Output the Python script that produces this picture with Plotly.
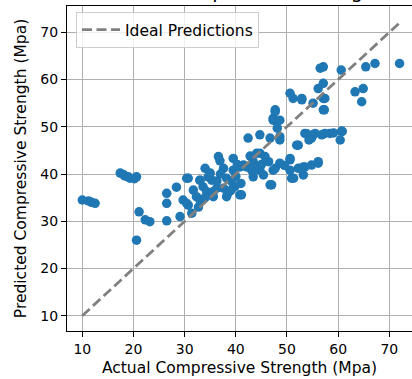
import plotly.graph_objects as go

# Actual vs predicted compressive strength (MPa)
actual = [
    10.0, 11.2, 11.8, 12.5,
    17.4, 18.0, 18.3, 19.0, 19.3, 20.6, 20.2,
    21.1, 22.3, 23.2, 20.6,
    26.5, 26.5, 28.4, 30.7, 26.5, 29.1, 30.7, 31.4, 29.7, 30.4,
    31.7, 32.3, 33.0, 33.0, 33.6, 34.3, 34.6, 35.3, 35.6, 36.3, 35.6, 34.0, 32.7,
    34.0, 36.6, 39.5, 37.6, 38.2, 39.5, 40.8, 41.5, 43.1, 44.7, 43.4, 38.2, 40.8,
    41.1, 39.2, 39.8, 37.6, 36.3, 38.5, 40.0, 41.0, 42.1, 43.4, 43.4, 44.1, 44.7,
    45.7, 46.4, 44.7, 45.4, 47.3, 48.6, 50.6, 50.6, 50.6, 51.3, 53.2, 53.2, 54.8,
    56.1, 56.1, 47.0, 46.7, 47.7, 50.9, 52.2, 53.5, 30.4, 33.0,
    42.4, 44.7, 46.7, 48.6, 48.6, 52.2, 51.9, 53.5, 55.1, 56.8, 58.4, 60.7, 60.4,
    54.3, 54.8, 53.9, 59.1, 57.4, 55.5, 60.8,
    47.7, 47.3, 48.0, 48.1, 47.7, 47.3, 48.6,
    50.6, 51.2, 52.9, 52.9, 57.1, 57.1, 55.1, 57.3,
    57.1, 56.5, 57.1, 56.1, 57.4, 60.6, 65.4, 67.2, 72.0, 63.3, 64.9, 64.6,
    36.9, 40.3, 42.8, 45.0, 49.5, 37.0, 35.0, 39.0,
]
predicted = [
    34.5, 34.3, 34.0, 33.8,
    40.2, 39.9, 39.6, 39.4, 39.1, 39.4, 39.0,
    32.0, 30.3, 29.9, 26.0,
    35.9, 33.8, 37.2, 39.1, 30.1, 31.0, 33.4, 31.7, 34.5, 33.8,
    36.6, 35.2, 34.5, 38.7, 37.3, 36.3, 39.4, 38.7, 36.3, 37.0, 35.2, 35.0, 33.0,
    41.2, 43.7, 43.3, 41.2, 39.1, 40.8, 41.5, 41.9, 40.8, 40.8, 42.6, 35.2, 35.6,
    35.6, 38.4, 37.3, 37.0, 38.5, 36.0, 39.5, 38.0, 41.5, 40.8, 39.4, 44.4, 44.4,
    43.7, 42.6, 41.5, 39.8, 40.8, 42.3, 43.0, 43.3, 40.8, 39.1, 39.8, 41.5, 41.9,
    42.3, 42.6, 37.7, 37.7, 41.2, 39.1, 41.2, 41.5, 39.1, 38.7,
    47.6, 48.3, 47.6, 47.9, 47.2, 46.1, 46.1, 48.6, 48.3, 48.3, 48.6, 49.1, 47.2,
    47.2, 47.6, 48.5, 48.7, 48.6, 48.6, 49.0,
    53.6, 51.8, 51.1, 49.7, 53.2, 51.4, 51.4,
    57.1, 56.0, 55.7, 56.0, 56.0, 53.6, 55.0, 53.6,
    62.7, 62.4, 59.2, 58.1, 56.0, 62.0, 62.7, 63.4, 63.4, 57.4, 58.1, 55.3,
    42.8, 42.0, 43.8, 42.0, 41.8, 40.0, 40.2, 36.5,
]

ideal_x = [min(actual), max(actual)]
ideal_y = [min(actual), max(actual)]

title_text = "Actual Compressive Strength"
x_title = "Actual Compressive Strength (Mpa)"
y_title = "Predicted Compressive Strength (Mpa)"
ticks = [10, 20, 30, 40, 50, 60, 70]

W, H = 412, 379
L, R, T, B = 67, 0, 6, 48
pw, ph = W - L - R, H - T - B
xpx = 5.117  # px per unit
ypx = 4.723
x0 = 10 - (82.3 - L) / xpx
x1 = x0 + pw / xpx
y0 = 10 - ((H - B) - 315.7) / ypx
y1 = y0 + ph / ypx

font = "DejaVu Sans"

fig = go.Figure()
fig.add_trace(go.Scatter(
    x=actual, y=predicted, mode="markers", showlegend=False,
    marker=dict(color="#1f77b4", size=9.5, line=dict(width=0)),
))
fig.add_trace(go.Scatter(
    x=ideal_x, y=ideal_y, mode="lines", name="Ideal Predictions",
    line=dict(color="#808080", width=2.8, dash="10px,4.5px"),
))

axis_common = dict(
    showgrid=True, gridcolor="#b0b0b0", gridwidth=1.1,
    showline=True, linecolor="black", linewidth=1.1,
    ticks="outside", ticklen=5, tickwidth=1.1, tickcolor="black",
    tickfont=dict(family=font, size=14, color="black"),
    tickvals=ticks, zeroline=False,
)
fig.update_xaxes(range=[x0, x1], mirror=True,
                 title=dict(text=x_title, font=dict(family=font, size=15.5, color="black"), standoff=6),
                 **axis_common)
fig.update_yaxes(range=[y0, y1],
                 title=dict(text=y_title, font=dict(family=font, size=15.5, color="black"), standoff=9),
                 **axis_common)

fig.add_annotation(
    text=title_text, xref="paper", yref="paper",
    x=(242 - L) / pw, y=1 + (T - 4.9) / ph, xanchor="center", yanchor="bottom",
    showarrow=False, font=dict(family=font, size=19.4, color="black"),
)

fig.update_layout(
    width=W, height=H, margin=dict(l=L, r=R, t=T, b=B, autoexpand=False),
    plot_bgcolor="white", paper_bgcolor="white",
    legend=dict(x=(76 - L) / pw, y=1 - (12 - T) / ph, xanchor="left", yanchor="top",
                bgcolor="rgba(255,255,255,0.8)", bordercolor="#cccccc", borderwidth=1,
                font=dict(family=font, size=15.5, color="black"), itemwidth=38),
)

fig.write_html("out.html", config={"displayModeBar": False},
               post_script="document.body.style.margin='0';document.body.style.overflow='hidden';")
